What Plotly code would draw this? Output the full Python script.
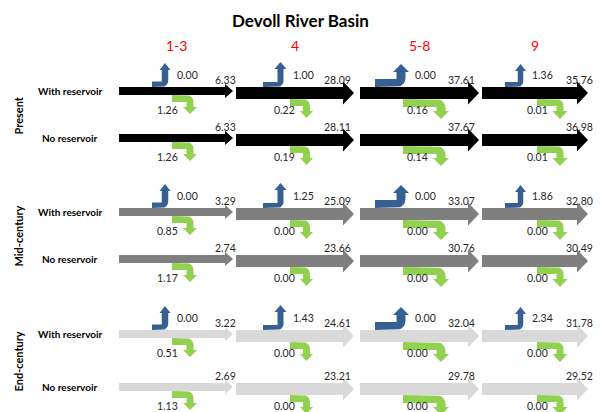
import math
import plotly.graph_objects as go

# ---------------- data ----------------
title = "Devoll River Basin"
columns = ["1-3", "4", "5-8", "9"]
periods = ["Present", "Mid-century", "End-century"]
scenarios = ["With reservoir", "No reservoir"]

# outflow at the end of each reach
present_with_out = [6.33, 28.09, 37.61, 35.76]
present_no_out = [6.33, 28.11, 37.67, 36.98]
mid_with_out = [3.29, 25.09, 33.07, 32.80]
mid_no_out = [2.74, 23.66, 30.76, 30.49]
end_with_out = [3.22, 24.61, 32.04, 31.78]
end_no_out = [2.69, 23.21, 29.78, 29.52]

# reservoir flows (blue, up)
present_res = [0.00, 1.00, 0.00, 1.36]
mid_res = [0.00, 1.25, 0.00, 1.86]
end_res = [0.00, 1.43, 0.00, 2.34]

# losses (green, down)
present_with_loss = [1.26, 0.22, 0.16, 0.01]
present_no_loss = [1.26, 0.19, 0.14, 0.01]
mid_with_loss = [0.85, 0.00, 0.00, 0.00]
mid_no_loss = [1.17, 0.00, 0.00, 0.00]
end_with_loss = [0.51, 0.00, 0.00, 0.00]
end_no_loss = [1.13, 0.00, 0.00, 0.00]

rows = [
    (0, 0, present_with_out, present_res, present_with_loss),
    (0, 1, present_no_out, None, present_no_loss),
    (1, 0, mid_with_out, mid_res, mid_with_loss),
    (1, 1, mid_no_out, None, mid_no_loss),
    (2, 0, end_with_out, end_res, end_with_loss),
    (2, 1, end_no_out, None, end_no_loss),
]

# ---------------- layout / style ----------------
W, H = 603, 412
COL_LEFT = [119, 236, 360, 482]
COL_TIP = [233, 354, 479, 588]
ROW_TOP = [87, 134, 208, 255, 330, 383]
PERIOD_COLORS = ["#000000", "#7f7f7f", "#d9d9d9"]
BLUE = "#366092"
GREEN = "#92d050"
FONT = "Lato"
NUM_SIZE = 10.5
OUT_LABEL_DX = [5, -1, -2, 7]

# blue elbow style per column (offsets from column left)
BLUE_STYLE = [
    dict(xs=33, xc=46, w=6.5, th=5.5, hw=11, rise=24, hl=7),
    dict(xs=27, xc=44.5, w=6, th=5, hw=12, rise=25, hl=7),
    dict(xs=15, xc=41, w=9, th=8, hw=16, rise=23, hl=8),
    dict(xs=23, xc=38.5, w=5.5, th=5, hw=11, rise=23, hl=7),
]
GREEN_STYLE = [
    dict(xs=53, xc=71, w=7, th=7, hw=14, drop=19, hl=7),
    dict(xs=54, xc=70.5, w=7, th=7, hw=13, drop=19, hl=7),
    dict(xs=43, xc=81, w=9, th=8, hw=16, drop=20, hl=8),
    dict(xs=55, xc=78, w=7, th=7, hw=15, drop=20, hl=8),
]


def shaft_style(v):
    # thin arrows for small flows, thick for large
    if v < 10:
        return dict(th=8, hh=7, hl=8)
    return dict(th=12, hh=11.5, hl=11)


def arc(cx, cy, r, a0, a1, n=8):
    pts = []
    for k in range(n + 1):
        a = math.radians(a0 + (a1 - a0) * k / n)
        pts.append((cx + r * math.cos(a), cy + r * math.sin(a)))
    return pts


def main_arrow(x0, x1, top, st):
    th, hh, hl = st["th"], st["hh"], st["hl"]
    cy = top + th / 2
    hx = x1 - hl
    return [(x0, top), (hx, top), (hx, cy - hh), (x1, cy), (hx, cy + hh),
            (hx, top + th), (x0, top + th)]


def blue_elbow(left, top, s):
    xs = left + s["xs"]
    xc = left + s["xc"]
    xr, xl = xc + s["w"] / 2, xc - s["w"] / 2
    tip = top - s["rise"]
    r = s["w"]
    pts = [(xs, top)]
    pts += arc(xr - r, top - r, r, 90, 0)
    pts += [(xr, tip + s["hl"]), (xc + s["hw"] / 2, tip + s["hl"]), (xc, tip),
            (xc - s["hw"] / 2, tip + s["hl"]), (xl, tip + s["hl"]),
            (xl, top - s["th"]), (xs, top - s["th"])]
    return pts


def green_elbow(left, bottom, s):
    xs = left + s["xs"]
    xc = left + s["xc"]
    xr, xl = xc + s["w"] / 2, xc - s["w"] / 2
    tip = bottom + s["drop"]
    r = s["w"]
    pts = [(xs, bottom)]
    pts += arc(xr - r, bottom + r, r, -90, 0)
    pts += [(xr, tip - s["hl"]), (xc + s["hw"] / 2, tip - s["hl"]), (xc, tip),
            (xc - s["hw"] / 2, tip - s["hl"]), (xl, tip - s["hl"]),
            (xl, bottom + s["th"]), (xs, bottom + s["th"])]
    return pts


fig = go.Figure()
annotations = []


def add_poly(pts, color):
    xs = [p[0] for p in pts] + [pts[0][0]]
    ys = [p[1] for p in pts] + [pts[0][1]]
    fig.add_trace(go.Scatter(x=xs, y=ys, mode="lines", fill="toself",
                             fillcolor=color, line=dict(width=0, color=color),
                             hoverinfo="skip", showlegend=False))


def add_text(x, y, text, size=NUM_SIZE, color="#262626", xanchor="center",
             bold=False, angle=0):
    annotations.append(dict(
        x=x, y=y, xref="x", yref="y", text=f"<b>{text}</b>" if bold else text,
        showarrow=False, xanchor=xanchor, yanchor="middle", textangle=angle,
        font=dict(family=FONT, size=size, color=color)))


for r_i, (p_i, s_i, outs, res, loss) in enumerate(rows):
    top = ROW_TOP[r_i]
    color = PERIOD_COLORS[p_i]
    for c in range(len(columns)):
        st = shaft_style(outs[c])
        add_poly(main_arrow(COL_LEFT[c], COL_TIP[c], top, st), color)
        add_text(COL_TIP[c] + OUT_LABEL_DX[c], top - 7, f"{outs[c]:.2f}",
                 xanchor="right")
        if res is not None:
            bs = BLUE_STYLE[c]
            add_poly(blue_elbow(COL_LEFT[c], top, bs), BLUE)
            add_text(COL_LEFT[c] + bs["xc"] + bs["hw"] / 2 + 4, top - 12,
                     f"{res[c]:.2f}", xanchor="left")
        gs = GREEN_STYLE[c]
        add_poly(green_elbow(COL_LEFT[c], top + st["th"], gs), GREEN)
        add_text(COL_LEFT[c] + gs["xc"] - gs["hw"] / 2 - 3, top + 23,
                 f"{loss[c]:.2f}", xanchor="right")
    add_text(70, top + 4, scenarios[s_i], size=10, color="#000000", bold=True)

# period labels (rotated)
for p_i, name in enumerate(periods):
    yc = (ROW_TOP[2 * p_i] + ROW_TOP[2 * p_i + 1]) / 2 + 5
    add_text(18, yc, name, size=11, color="#000000", bold=True, angle=-90)

# column headers
for c, name in enumerate(columns):
    add_text((COL_LEFT[c] + COL_TIP[c]) / 2, 45, name, size=14, color="#ff0000")

# title
add_text(300, 20, title, size=17, color="#000000", bold=True)

fig.update_layout(
    width=W, height=H, margin=dict(l=0, r=0, t=0, b=0),
    paper_bgcolor="white", plot_bgcolor="white",
    xaxis=dict(range=[0, W], visible=False, fixedrange=True),
    yaxis=dict(range=[H, 0], visible=False, fixedrange=True),
    annotations=annotations, showlegend=False,
)

fig.write_html("out.html", config={"displayModeBar": False},
               post_script="document.body.style.margin='0';")
